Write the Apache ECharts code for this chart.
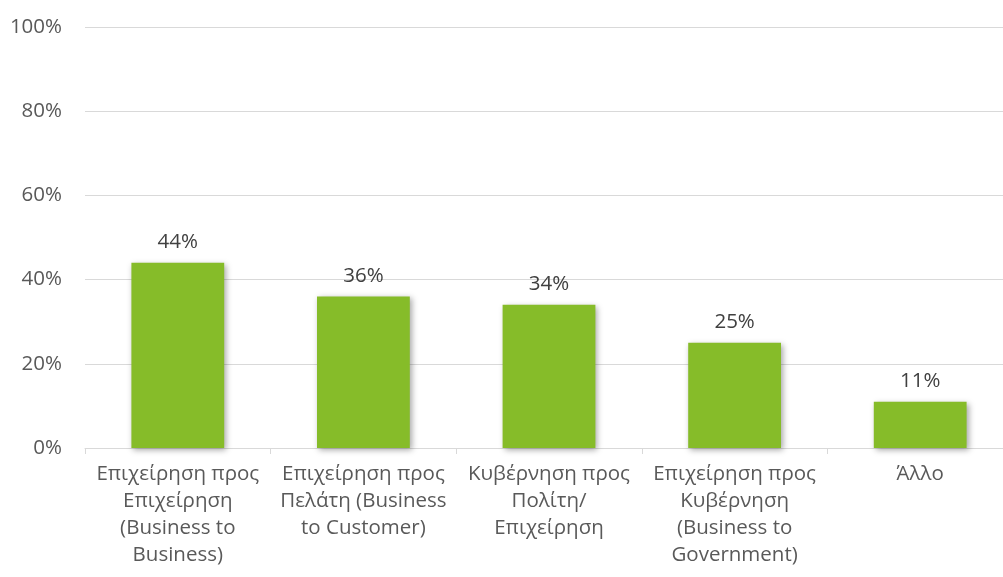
<!DOCTYPE html>
<html>
<head>
<meta charset="utf-8">
<script src="https://cdn.jsdelivr.net/npm/echarts@6/dist/echarts.min.js"></script>
<style>
  html, body { margin: 0; padding: 0; background: #fff; overflow: hidden; }
  /* the original plot runs a little past the right edge of the picture */
  #chartingArea { width: 1013px; height: 577px; }
</style>
</head>
<body>
<div id="chartingArea"></div>
<script>
const categories = [
  'Επιχείρηση προς\nΕπιχείρηση\n(Business to\nBusiness)',
  'Επιχείρηση προς\nΠελάτη (Business\nto Customer)',
  'Κυβέρνηση προς\nΠολίτη/\nΕπιχείρηση',
  'Επιχείρηση προς\nΚυβέρνηση\n(Business to\nGovernment)',
  'Άλλο'
];
const shares = [44, 36, 34, 25, 11];
const yTicks = [0, 20, 40, 60, 80, 100];

const font = '"Open Sans", "Noto Sans", sans-serif';

const myChart = echarts.init(document.getElementById('chartingArea'));
myChart.setOption({
  animation: false,
  grid: { left: 85, right: 0, top: 27, bottom: 129, containLabel: false },
  xAxis: {
    type: 'category',
    data: categories,
    axisLine: { lineStyle: { color: '#d9d9d9', width: 1 } },
    axisTick: { show: true, length: 6, lineStyle: { color: '#d9d9d9' } },
    axisLabel: {
      color: '#595959',
      fontFamily: font,
      fontSize: 20.5,
      lineHeight: 27,
      margin: 13,
      interval: 0
    }
  },
  yAxis: {
    type: 'value',
    min: yTicks[0],
    max: yTicks[yTicks.length - 1],
    interval: 20,
    axisLine: { show: false },
    axisTick: { show: false },
    splitLine: { lineStyle: { color: '#d9d9d9', width: 1 } },
    axisLabel: {
      color: '#595959',
      fontFamily: font,
      fontSize: 20.5,
      margin: 23,
      formatter: v => v + '%'
    }
  },
  series: [
    {
      type: 'bar',
      data: shares,
      barWidth: '50%',
      itemStyle: {
        color: '#86bc29',
        shadowColor: 'rgba(0,0,0,0.35)',
        shadowBlur: 6,
        shadowOffsetX: 2,
        shadowOffsetY: 2
      },
      label: {
        show: true,
        position: 'top',
        distance: 10,
        color: '#404040',
        fontFamily: font,
        fontSize: 20.5,
        formatter: p => p.value + '%'
      }
    }
  ]
});
</script>
</body>
</html>
